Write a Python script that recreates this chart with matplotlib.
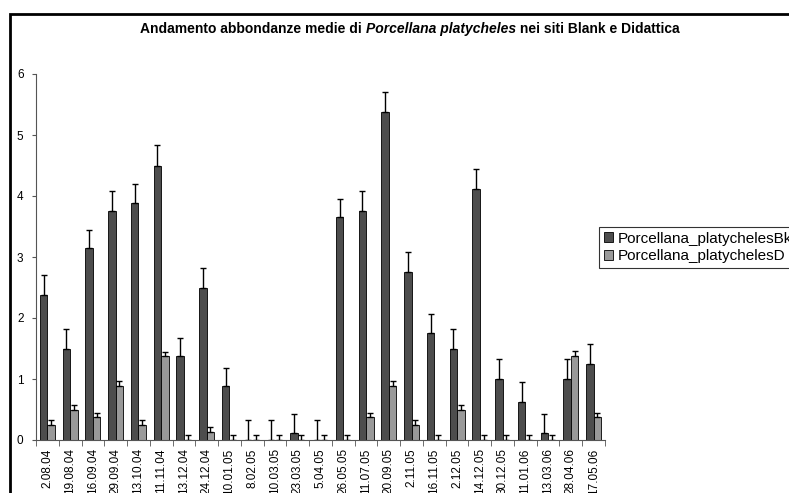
import numpy as np
import matplotlib.pyplot as plt
from matplotlib.patches import Rectangle

plt.rcParams['font.family'] = ['Liberation Sans', 'DejaVu Sans']

# sampling dates
dates = ['2.08.04', '19.08.04', '16.09.04', '29.09.04', '13.10.04', '11.11.04',
         '13.12.04', '24.12.04', '10.01.05', '8.02.05', '10.03.05', '23.03.05',
         '5.04.05', '26.05.05', '11.07.05', '20.09.05', '2.11.05', '16.11.05',
         '2.12.05', '14.12.05', '30.12.05', '11.01.06', '13.03.06', '28.04.06',
         '17.05.06']

# mean abundances, site Blank
blank = [2.38, 1.50, 3.14, 3.75, 3.88, 4.50, 1.37, 2.50, 0.88, 0.0, 0.0, 0.12,
         0.0, 3.65, 3.75, 5.37, 2.75, 1.75, 1.50, 4.12, 1.00, 0.63, 0.12, 1.00, 1.25]
blank_err = [0.32, 0.32, 0.31, 0.33, 0.32, 0.33, 0.31, 0.32, 0.30, 0.32, 0.32, 0.31,
             0.32, 0.30, 0.33, 0.33, 0.33, 0.32, 0.32, 0.33, 0.32, 0.32, 0.31, 0.32, 0.32]

# mean abundances, site Didattica
didattica = [0.25, 0.50, 0.37, 0.88, 0.25, 1.37, 0.0, 0.13, 0.0, 0.0, 0.0, 0.0,
             0.0, 0.0, 0.37, 0.88, 0.25, 0.0, 0.50, 0.0, 0.0, 0.0, 0.0, 1.38, 0.37]
didattica_err = [0.08] * len(dates)

W, H = 789, 493
fig = plt.figure(figsize=(W / 100, H / 100), dpi=100)
ax = fig.add_axes([36 / W, 1 - 440 / H, (605 - 36) / W, (440 - 74) / H])

x = np.arange(len(dates))
w = 0.33
err_kw = dict(ecolor='black', elinewidth=1, capsize=2.5, capthick=1)
ax.bar(x - w / 2, blank, w, color='#4d4d4d', edgecolor='black', linewidth=0.6,
       yerr=[np.zeros(len(blank)), blank_err], error_kw=err_kw,
       label='Porcellana_platychelesBk')
ax.bar(x + w / 2, didattica, w, color='#999999', edgecolor='black', linewidth=0.6,
       yerr=[np.zeros(len(didattica)), didattica_err], error_kw=err_kw,
       label='Porcellana_platychelesD')

ax.set_xlim(-0.5, len(dates) - 0.5)
ax.set_ylim(0, 6)
ax.set_yticks(range(7))
ax.set_xticks(x)
ax.set_xticklabels(dates, rotation=90, fontsize=8.5)
ax.set_xticks(np.arange(-0.5, len(dates), 1), minor=True)
ax.tick_params(axis='x', which='major', length=0, pad=6)
ax.tick_params(axis='x', which='minor', length=4, direction='out', color='#555555')
ax.tick_params(axis='y', labelsize=8.5, length=3, color='#555555', pad=6)
for s in ['top', 'right']:
    ax.spines[s].set_visible(False)
ax.spines['left'].set_color('#555555')
ax.spines['bottom'].set_color('#555555')

leg = ax.legend(loc='upper left', bbox_to_anchor=(599 / W, 1 - 227 / H),
                bbox_transform=fig.transFigure, frameon=True, fancybox=False,
                fontsize=11, handlelength=0.6, handleheight=0.6,
                handletextpad=0.3, borderpad=0.3, labelspacing=0.25,
                borderaxespad=0)
leg.get_frame().set_edgecolor('black')
leg.get_frame().set_linewidth(0.8)

# outer chart border, cropped at the right and bottom
fig.patches.append(Rectangle((10 / W, -0.1), 1.2, 1 - 14 / H + 0.1,
                             transform=fig.transFigure, fill=False,
                             edgecolor='black', linewidth=2))

# title with italic species name
parts = [('Andamento abbondanze medie di ', 'normal'),
         ('Porcellana platycheles', 'italic'),
         (' nei siti Blank e Didattica', 'normal')]
fig.canvas.draw()
r = fig.canvas.get_renderer()
texts = []
total = 0
for s, st in parts:
    t = fig.text(0, 1 - 29 / H, s, fontsize=10, fontweight='bold', style=st, va='center')
    total += t.get_window_extent(r).width
    texts.append(t)
xpos = 410 - total / 2
for t in texts:
    t.set_x(xpos / W)
    xpos += t.get_window_extent(r).width

fig.savefig('out.png', dpi=100)
